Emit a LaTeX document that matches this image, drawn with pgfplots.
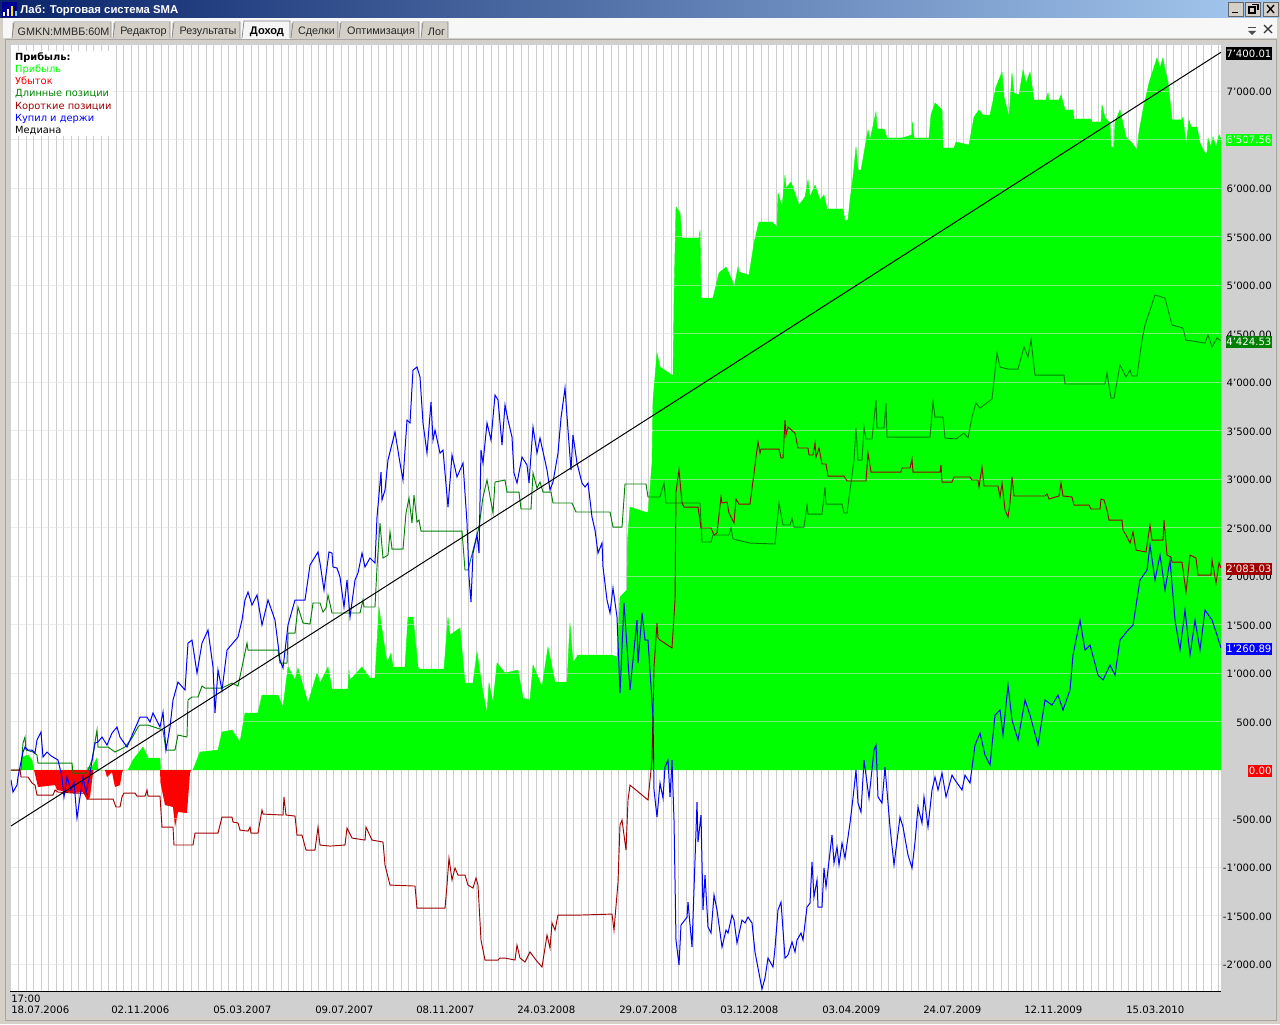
\documentclass[border=0pt]{standalone}
\usepackage{fontspec}
\setmainfont{DejaVu Sans}
\newfontfamily\lib{Liberation Sans}
\usepackage{pgfplots}
\pgfplotsset{compat=1.18}
\definecolor{prof}{HTML}{00FF00}
\definecolor{loss}{HTML}{FF0000}
\definecolor{longc}{HTML}{008000}
\definecolor{shortc}{HTML}{A00000}
\definecolor{bhc}{HTML}{0000FF}
\definecolor{vgrid}{HTML}{CDCDCD}
\definecolor{hgrid}{HTML}{DDDDDD}
\definecolor{frame}{HTML}{D4D0C8}
\definecolor{panel}{HTML}{D0D0D0}
\definecolor{tbl}{HTML}{0A246A}
\definecolor{tbr}{HTML}{A6CAF0}
\newcommand{\fs}{\fontsize{7.6}{9}\selectfont}
\begin{document}
\begin{tikzpicture}[x=0.75pt,y=-0.75pt]
% window chrome
\fill[frame] (0,0) rectangle (1280,1024);
\shade[left color=tbl, right color=tbr] (0,0) rectangle (1280,18);
\fill[white!94!gray] (3,18) rectangle (1277,38);
\fill[panel] (8,42) rectangle (1275,1017);
\draw[gray!70,line width=.75pt] (5.5,39.5) rectangle (1276,1020);
\fill[white] (11,45) rectangle (1221,991);
% app icon
\fill[black!40!blue] (2,2) rectangle (17,17);
\fill[white] (3,12) rectangle (5,16);
\fill[white] (7,9) rectangle (9,16);
\fill[yellow!85!orange] (11,6) rectangle (13,16);
\fill[cyan!60!white] (15,11) rectangle (16.5,16);
\node[anchor=west,inner sep=0,text=white,font=\lib\bfseries\fontsize{8.5}{10}\selectfont] at (20,10.5) {Лаб: Торговая система SMA};
% window buttons
\foreach \xa in {1228,1245,1263}{\fill[frame] (\xa,2) rectangle +(15,14); \draw[black!60,line width=.5pt] (\xa,2) rectangle +(15,14);}
\draw[black,line width=1.2pt] (1232,12.5) -- (1238,12.5);
\draw[black,line width=.8pt] (1249,7) rectangle (1255,13);
\draw[black,line width=.8pt] (1252,4.5) -- (1258,4.5) -- (1258,10);
\draw[black,line width=1pt] (1267,5) -- (1274,13) (1274,5) -- (1267,13);
\fill[black!70] (1248,31) -- (1256,31) -- (1252,35) -- cycle;
\fill[black!70] (1248,27) rectangle (1256,28.5);
\draw[black!80,line width=.9pt] (1264,25) -- (1272,33) (1272,25) -- (1264,33);
% tabs
\foreach \xa/\xb/\tt in {12/111/GMKN:MMBБ:60M,113/170/Редактор,172/240/Результаты,291/338/Сделки,339/419/Оптимизация,421/448/Лог}{
  \fill[frame] (\xa,23) rectangle (\xb,38);
  \draw[gray,line width=.5pt] (\xa,38) -- (\xa+2,22) -- (\xb,22) -- (\xb,38);
  \node[inner sep=0,font=\lib\fontsize{8.1}{10}\selectfont,text=black!85] at ({(\xa+\xb)/2+2},31.5) {\tt};
}
\fill[white!92!gray] (242,21) rectangle (290,39);
\draw[gray,line width=.5pt] (242,38) -- (244,21) -- (290,21) -- (290,38);
\node[inner sep=0,font=\lib\bfseries\fontsize{8.3}{10}\selectfont] at (267,31.5) {Доход};
\begin{axis}[
  at={(8.25pt,-743.25pt)}, anchor=south west,
  x=0.75pt, y=0.07275pt,
  xmin=11, xmax=1221, ymin=-2278, ymax=7474,
  clip mode=individual,
  axis line style={draw=none},
  major tick length=0pt, minor tick length=0pt,
  tick style={draw=none},
  xtick={11,111,213,315,416,517,619,720,822,923,1024,1126},
  xticklabels={18.07.2006,02.11.2006,05.03.2007,09.07.2007,08.11.2007,24.03.2008,29.07.2008,03.12.2008,03.04.2009,24.07.2009,12.11.2009,15.03.2010},
  minor xtick={18.5,26,...,1221},
  xminorgrids=true,
  minor grid style={color=vgrid,line width=.6pt},
  xticklabel style={anchor=north west,inner sep=0pt,font=\fs,yshift=-11.2pt},
  ytick={-2000,-1500,-1000,-500,0,500,1000,1500,2000,2500,3000,3500,4000,4500,5000,5500,6000,6500,7000},
  yticklabel pos=right,
  yticklabel style={anchor=east,inner sep=0pt,font=\fs,xshift=38.25pt,yshift=-.75pt,
    /pgf/number format/.cd,fixed,fixed zerofill,precision=2,1000 sep={'},assume math mode=true},
  no markers,
]
% Прибыль
\addplot[fill=prof,draw=prof,line width=.3pt] table {
21 0
22 134
28 155
32 103
34 0
87 0
88 31
92 31
97 124
98 0
128 0
133 103
143 237
148 124
160 124
160.5 0
193 0
200 186
218 206
222 392
232 412
240 289
245 588
258 588
262 773
278 773
283 650
288 1062
295 928
298 1052
308 691
317 1000
320 897
328 1062
332 835
348 835
349 1031
350 928
362 1062
370 949
375 949
379 1681
381 1516
387 1103
391 1206
393 1062
405 1062
408 1577
413 1577
418 1062
419 1041
444 1041
448 1577
450 1392
460 1464
465 897
473 897
477 1217
483 794
487 588
489 897
493 691
497 1103
505 1000
518 1031
523 742
530 722
533 1083
542 856
548 1268
555 907
567 907
570 1516
573 1103
578 1186
612 1186
617 1165
620 1784
627 1856
627.5 2371
630 2712
648 2650
652 3165
653 3815
657 4299
660 4155
672 4072
673 4072
674 4846
675 5341
676 5805
680 5743
682 5485
699 5485
700 5567
700.5 5258
701 4866
713 4866
719 5124
726 5186
732 5052
734 4969
738 5186
739 5134
749 5103
754 5433
759 5650
772 5650
777 5598
778 5949
782 5805
785 6134
786 6000
791 6062
799 5825
805 5908
808 6083
810 5908
815 6031
820 5877
824 5928
827 5784
843 5784
845 5660
848 5670
850 5877
852 6031
854 6207
856 6423
858 6186
861 6186
864 6361
868 6598
870 6495
876 6784
877 6609
884 6609
887 6516
902 6516
912 6547
912.5 6681
914 6516
929 6516
931 6753
935 6877
942 6805
943 6413
954 6413
956 6475
969 6444
974 6732
979 6805
983 6753
990 6753
996 7042
1002 7196
1004 6939
1009 6732
1012 7186
1014 6980
1019 6959
1023 7217
1026 7083
1030 7196
1034 6908
1046 6908
1048 6980
1049 6908
1059 6908
1061 6959
1065 6805
1073 6805
1074 6712
1091 6712
1092 6681
1101 6681
1102 6856
1105 6722
1110 6670
1111 6423
1114 6423
1115 6681
1120 6805
1126 6526
1132 6464
1137 6392
1139 6578
1143 6805
1149 7083
1157 7341
1160 7238
1163 7341
1165 7217
1168 7093
1172 6702
1182 6702
1183 6732
1186 6444
1189 6702
1191 6629
1197 6629
1200 6464
1205 6361
1207 6361
1208 6516
1211 6423
1213 6526
1216 6423
1219 6547
1221 6507
1221 0
};
% Убыток
\addplot[fill=loss,draw=none] table {
34 0
34.5 -21
38 -175
55 -155
57 -206
73 -237
83 -227
87 -309
90 -278
93 -31
93.5 0
105 0
107 -72
112 -21
115 -175
120 -155
122 -31
123 0
160 0
160.5 -134
165 -361
173 -381
175 -588
178 -433
187 -443
190 -31
191 0
};
% horizontal grid, over the areas
\pgfplotsinvokeforeach{-2000,-1500,-1000,-500,500,1000,1500,2000,2500,3000,3500,4000,4500,5000,5500,6000,6500,7000}{
  \addplot[hgrid,opacity=.55,line width=.75pt] coordinates {(11,#1)(1221,#1)};
}
% Длинные позиции
\addplot[longc,line width=.7pt] table {
11 0
21 0
23 278
25 340
26 206
33 186
37 155
38 72
72 72
73 -31
87 -31
92 103
97 412
98 237
108 237
115 186
125 237
132 330
138 443
140 464
148 464
163 412
166 206
175 206
178 361
187 340
188 722
192 753
198 753
202 866
205 845
222 845
232 897
238 866
242 1062
247 1309
248 1237
278 1237
280 1103
287 1103
288 1412
295 1412
298 1681
303 1516
310 1505
313 1722
320 1722
323 1629
326 1670
328 1804
332 1619
360 1619
363 1753
364 1681
375 1681
377 2093
380 2546
383 2186
388 2217
390 2454
392 2278
403 2278
406 2650
409 2804
412 2546
414 2835
417 2557
419 2577
421 2464
462 2464
465 2062
468 2062
479 2505
483 2815
487 2990
491 2763
493 2650
495 2969
505 2990
507 2866
519 2866
521 2691
531 2691
533 3062
537 2907
540 2969
543 2866
551 2866
553 2753
572 2753
576 2660
610 2660
613 2505
622 2505
625 2949
646 2949
648 2815
660 2815
664 2959
666 2753
700 2753
702 2351
711 2351
713 2423
729 2423
731 2495
733 2382
750 2340
775 2330
779 2753
783 2526
790 2526
792 2598
794 2505
804 2505
807 2732
808 2639
822 2639
825 2918
826 2742
842 2742
844 2650
847 2650
854 3196
856 3526
858 3196
862 3196
864 3536
866 3413
872 3413
876 3815
877 3526
884 3526
886 3784
887 3433
930 3433
933 3794
935 3639
943 3639
945 3423
956 3413
964 3474
968 3423
972 3639
976 3784
980 3732
992 3825
997 4299
1000 4155
1008 4134
1018 4134
1024 4361
1028 4258
1031 4433
1035 4072
1064 4072
1065 3980
1105 3980
1107 4093
1111 3835
1114 3835
1120 4176
1126 4052
1130 4124
1132 4062
1137 4062
1142 4433
1145 4588
1150 4743
1155 4897
1165 4866
1172 4588
1183 4557
1186 4433
1205 4402
1208 4485
1212 4361
1217 4454
1221 4424
};
% Короткие позиции
\addplot[shortc,line width=.7pt] table {
11 0
20 0
21 -72
28 -72
32 -134
35 -155
37 -258
53 -258
55 -206
58 -227
73 -237
87 -237
88 -299
113 -299
116 -381
120 -381
122 -278
124 -237
135 -237
137 -268
145 -268
147 -206
148 -268
160 -268
162 -588
173 -588
174 -773
193 -773
195 -650
218 -650
222 -485
232 -485
233 -536
238 -546
240 -619
248 -629
250 -588
251 -650
258 -650
262 -412
263 -454
283 -464
284 -278
286 -464
295 -474
297 -670
302 -670
306 -825
315 -825
318 -588
320 -773
330 -784
345 -773
347 -598
352 -701
365 -722
366 -588
372 -722
383 -742
385 -979
390 -1186
415 -1196
417 -1423
445 -1423
447 -1186
449 -907
452 -1134
455 -1010
458 -1083
465 -1083
468 -1186
473 -1217
476 -1113
478 -1186
481 -1753
485 -1959
498 -1959
500 -1938
505 -1938
515 -1959
517 -1804
520 -1938
525 -1979
530 -1876
536 -1959
542 -2031
547 -1701
550 -1835
552 -1577
555 -1650
558 -1495
580 -1495
612 -1485
614 -1650
618 -1155
620 -567
622 -515
626 -825
628 -309
630 -155
648 -309
650 -103
652 103
654 1062
657 1516
658 1361
660 1340
672 1258
675 1753
676 2866
679 3093
682 2753
684 2711
698 2711
701 2495
711 2495
714 2423
717 2443
721 2815
722 2753
727 2763
729 2650
734 2546
736 2794
739 2742
750 2742
754 3062
758 3382
760 3268
761 3309
779 3309
781 3217
783 3217
785 3608
786 3454
788 3536
795 3474
798 3320
808 3320
809 3248
813 3248
815 3371
816 3227
819 3320
822 3155
826 3155
828 3031
844 3031
847 2980
866 2980
868 3268
871 3072
901 3072
902 3114
910 3114
912 3206
913 3072
940 3072
941 3145
942 2969
952 2969
954 3021
970 3021
972 2990
978 2990
979 2918
982 3124
984 2928
998 2928
1000 2815
1002 2959
1005 2680
1008 2608
1010 2753
1012 3021
1014 2825
1045 2825
1047 2846
1049 2794
1059 2825
1061 2959
1063 2825
1072 2815
1074 2732
1089 2732
1091 2691
1100 2691
1101 2794
1104 2784
1107 2680
1109 2577
1122 2577
1123 2474
1126 2423
1130 2340
1133 2454
1136 2268
1146 2248
1150 2526
1152 2371
1163 2371
1164 2577
1167 2216
1171 2196
1172 2144
1182 2144
1186 1835
1190 2216
1196 2186
1198 2010
1211 2010
1212 2165
1216 1928
1219 2134
1221 2083
};
% Купил и держи
\addplot[bhc,line width=.75pt] table {
11 -103
13 -227
17 -155
18 -72
23 186
25 237
28 206
32 206
35 175
37 309
41 392
43 134
47 186
50 155
53 134
58 103
62 -72
64 -278
67 -72
71 -206
74 -124
77 -495
80 -278
83 -72
86 -237
90 -31
95 278
98 289
102 340
107 258
112 381
117 443
120 340
127 237
133 381
140 546
147 546
150 495
153 588
160 443
163 598
166 206
170 443
173 722
178 907
185 825
188 1309
192 1340
197 1000
202 1309
208 1443
213 1062
215 588
218 1031
222 825
227 1237
238 1371
242 1546
245 1753
248 1835
252 1701
257 1804
262 1495
268 1753
275 1546
280 1134
283 1052
288 1495
295 1753
305 1753
310 2113
318 2248
320 2134
324 1856
327 2093
329 2248
332 2237
333 2093
337 2083
340 1990
344 1681
347 1959
350 1577
355 1959
358 2031
362 2237
365 2093
370 2186
375 2134
377 2608
381 3072
382 2784
385 2887
388 3196
395 3485
400 3165
403 2990
405 3299
407 3608
410 3578
413 4124
417 4155
420 4052
423 3578
427 3268
431 3794
433 3402
435 3505
440 3268
443 3299
448 2711
452 3248
457 3021
463 3165
467 2547
469 1990
471 1732
473 2237
477 2423
479 2237
481 3299
483 3165
487 3578
491 3402
495 3866
498 3815
502 3351
505 3763
508 3608
512 3433
514 3062
517 2959
522 3227
527 3145
529 2959
533 3536
537 3268
540 3423
547 3093
550 2887
553 2969
558 3268
561 3629
565 3938
568 3505
571 3093
573 3454
577 3165
582 2959
585 2918
588 2959
592 2608
595 2474
598 2237
602 2340
603 2093
607 1753
610 1619
613 1876
617 1577
620 794
624 1722
630 825
637 1546
638 1103
642 1619
645 1340
648 1340
653 546
654 -206
657 -485
660 -134
663 -289
665 31
668 103
670 -278
672 103
674 -515
676 -1753
679 -2010
681 -1598
687 -1516
688 -1361
692 -1825
697 -330
698 -742
701 -464
703 -1443
705 -1083
708 -1619
711 -1681
714 -1289
717 -1443
722 -1825
726 -1650
728 -1681
732 -1495
734 -1546
737 -1784
742 -1546
745 -1577
748 -1516
752 -1577
755 -1876
762 -2258
765 -2144
768 -1938
773 -2031
775 -1835
778 -1443
781 -1361
785 -1938
788 -1907
792 -1773
795 -1876
797 -1753
801 -1681
803 -1753
807 -1412
810 -1371
812 -948
814 -1309
817 -1134
818 -1412
822 -1412
824 -1010
826 -1206
832 -670
834 -959
837 -794
839 -979
842 -753
845 -907
850 -546
853 -289
856 0
858 -340
861 -433
864 103
869 -289
874 206
876 258
878 -278
882 -340
885 31
890 -588
894 -979
900 -485
903 -588
908 -876
912 -1010
915 -742
918 -381
922 -546
924 -278
928 -588
932 -206
935 -72
938 -206
942 -31
946 -278
952 -52
955 -103
962 -206
965 -52
970 -134
973 103
975 258
980 381
985 155
990 52
995 567
1000 619
1003 361
1008 876
1012 516
1018 309
1025 722
1030 567
1038 258
1045 722
1052 670
1058 773
1063 619
1070 825
1073 1186
1080 1546
1085 1237
1090 1289
1098 979
1103 928
1110 1083
1115 979
1120 1340
1128 1443
1133 1495
1140 1959
1147 2062
1150 2320
1155 1959
1160 2217
1165 1856
1170 2165
1175 1546
1180 1237
1185 1650
1190 1186
1195 1546
1200 1237
1205 1650
1212 1546
1217 1392
1221 1258
};
% Медиана
\addplot[black,line width=.75pt] coordinates {(11,-577)(1221,7400)};
% value labels
\tikzset{vl/.style={anchor=east,inner xsep=.6pt,inner ysep=1.7pt,font=\fs,text=white,yshift=-.9pt}}
\node[vl,fill=black] at (axis cs:1272.5,7400.01) {7'400.01};
\node[vl,fill=prof] at (axis cs:1272.5,6507.56) {6'507.56};
\node[vl,fill=longc] at (axis cs:1272.5,4424.53) {4'424.53};
\node[vl,fill=shortc] at (axis cs:1272.5,2083.03) {2'083.03};
\node[vl,fill=bhc] at (axis cs:1272.5,1260.89) {1'260.89};
\node[vl,fill=loss] at (axis cs:1272.5,0) {0.00};
\node[anchor=west,inner sep=0pt,font=\fs] at (axis cs:11,-2362) {17:00};
% legend block
\node[anchor=north west,fill=white,inner sep=1pt,align=left,font=\fontsize{7.4}{9.15}\selectfont] at (axis cs:13.5,7415) {%
  \textbf{Прибыль:}\\
  \textcolor{prof}{Прибыль}\\
  \textcolor{loss}{Убыток}\\
  \textcolor{longc}{Длинные позиции}\\
  \textcolor{shortc}{Короткие позиции}\\
  \textcolor{bhc}{Купил и держи}\\
  \textcolor{black}{Медиана}};
\end{axis}
\draw[black,line width=.75pt] (10,991) -- (1221,991);
\end{tikzpicture}
\end{document}
